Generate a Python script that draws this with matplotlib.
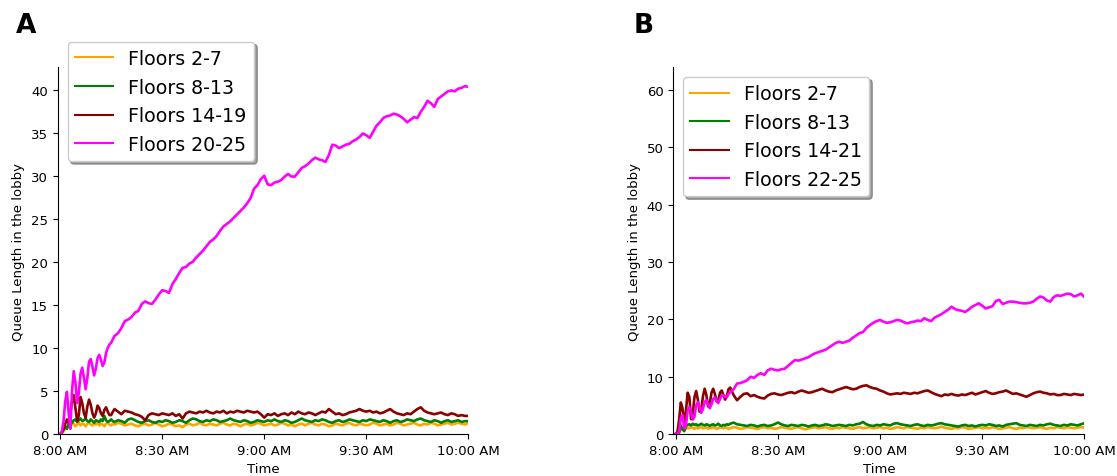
import numpy as np
import matplotlib
matplotlib.use('Agg')
import matplotlib.pyplot as plt

# time axis in minutes after 8:00 AM (finer sampling while the queues oscillate)
MIN_EARLY = np.arange(0, 16, 0.5)
MIN_LATE = np.arange(16, 121, 1)
minutes = np.concatenate([MIN_EARLY, MIN_LATE])

TICK_MIN = [0, 30, 60, 90, 120]
TICK_LABELS = ['8:00 AM', '8:30 AM', '9:00 AM', '9:30 AM', '10:00 AM']

LABELS_A = ['Floors 2-7', 'Floors 8-13', 'Floors 14-19', 'Floors 20-25']
LABELS_B = ['Floors 2-7', 'Floors 8-13', 'Floors 14-21', 'Floors 22-25']
COLORS = ['orange', 'green', 'darkred', 'magenta']

# ---- panel A ----
a_f2_7 = [0.0, 0.1, 0.3, 0.6, 0.8, 0.9, 1.0, 1.1, 1.2, 0.9, 1.1, 1.3, 1.0, 1.2, 1.1, 0.9,
          1.2, 1.3, 1.1, 1.0, 1.2, 1.1, 1.3, 1.0, 1.2, 1.1, 0.9, 1.2, 1.3, 1.1, 1.0, 1.2,
          1.1, 1.3, 1.2, 1.0, 1.1, 1.2, 1.0, 0.9, 1.1, 1.2, 1.0, 1.1, 1.3, 1.1, 0.9,
          1.0, 1.2, 1.1, 0.9, 1.0, 0.8, 1.1, 1.2, 1.0, 1.1, 1.3, 1.1, 1.0, 1.2, 1.1,
          1.0, 1.2, 1.3, 1.1, 1.0, 1.2, 1.1, 0.9, 1.1, 1.2, 1.0, 1.1, 1.3, 1.2, 1.0,
          1.1, 1.2, 1.0, 1.1, 1.3, 1.2, 1.0, 1.1, 0.9, 1.1, 1.2, 1.0, 1.2, 1.3, 1.1,
          1.0, 1.2, 1.1, 0.9, 1.0, 1.2, 1.1, 1.0, 1.2, 1.3, 1.1, 1.0, 1.2, 1.1, 1.0,
          1.1, 1.3, 1.2, 1.0, 1.1, 1.2, 1.0, 1.1, 1.3, 1.2, 1.0, 1.1, 1.2, 1.3, 1.1,
          1.0, 1.2, 1.1, 1.3, 1.2, 1.0, 1.1, 1.2, 1.3, 1.1, 1.2, 1.3, 1.2, 1.1, 1.3]
a_f8_13 = [0.0, 0.2, 0.5, 0.9, 0.6, 1.2, 1.5, 1.3, 1.6, 1.7, 1.4, 1.6, 1.8, 1.5, 1.6, 1.8,
           1.5, 1.4, 1.7, 1.5, 1.3, 1.6, 1.5, 1.4, 1.7, 1.5, 2.1, 1.6, 1.4, 1.5, 1.7, 1.5,
           1.4, 1.6, 1.5, 1.3, 1.7, 1.8, 1.6, 1.4, 1.3, 1.5, 1.6, 1.4, 1.3, 1.5, 1.4,
           1.6, 1.5, 1.3, 1.4, 1.6, 1.5, 1.3, 1.6, 1.8, 1.7, 1.5, 1.4, 1.6, 1.5, 1.7,
           1.6, 1.4, 1.5, 1.6, 1.8, 1.6, 1.5, 1.4, 1.6, 1.5, 1.3, 1.4, 1.6, 1.5, 1.4,
           1.6, 1.5, 1.7, 1.5, 1.4, 1.6, 1.5, 1.3, 1.4, 1.6, 1.8, 1.6, 1.5, 1.4, 1.6,
           1.5, 1.7, 1.6, 1.4, 1.3, 1.5, 1.6, 1.4, 1.5, 1.7, 1.6, 1.5, 1.4, 1.6, 1.5,
           1.7, 1.6, 1.5, 1.4, 1.6, 1.5, 1.3, 1.5, 1.6, 1.4, 1.5, 1.7, 1.6, 1.5, 1.7,
           1.8, 1.6, 1.5, 1.4, 1.6, 1.5, 1.3, 1.5, 1.6, 1.4, 1.5, 1.6, 1.4, 1.5, 1.5]
a_f14_19 = [0.0, 0.2, 0.6, 1.2, 1.7, 1.3, 2.5, 3.8, 4.5, 3.0, 1.5, 2.2, 4.3, 3.6, 2.4, 1.9,
            3.2, 4.0, 3.4, 2.4, 1.9, 2.4, 3.3, 3.0, 2.4, 2.1, 2.8, 3.1, 2.6, 2.2, 2.2, 2.6,
            2.9, 2.6, 2.3, 2.7, 2.6, 2.5, 2.3, 2.2, 2.0, 1.6, 2.2, 2.4, 2.3, 2.2, 2.4,
            2.3, 2.2, 2.4, 2.1, 2.3, 1.8, 2.4, 2.6, 2.5, 2.4, 2.6, 2.5, 2.7, 2.5, 2.4,
            2.6, 2.5, 2.7, 2.4, 2.6, 2.5, 2.7, 2.6, 2.5, 2.7, 2.6, 2.5, 2.6, 2.3, 1.9,
            2.3, 2.2, 2.4, 2.1, 2.3, 2.4, 2.2, 2.5, 2.3, 2.6, 2.4, 2.3, 2.5, 2.4, 2.2,
            2.4, 2.6, 2.5, 2.9, 2.6, 2.3, 2.4, 2.2, 2.3, 2.5, 2.6, 2.7, 2.9, 2.7, 2.6,
            2.7, 2.5, 2.6, 2.4, 2.5, 2.7, 2.9, 2.6, 2.4, 2.3, 2.2, 2.4, 2.3, 2.6, 2.9,
            3.1, 2.7, 2.5, 2.4, 2.3, 2.4, 2.5, 2.3, 2.2, 2.4, 2.3, 2.1, 2.2, 2.1, 2.1]
a_f20_25 = [0.0, 0.3, 1.5, 3.8, 4.9, 2.5, 0.6, 5.0, 7.3, 6.0, 3.6, 4.8, 7.0, 7.7, 6.5, 5.2,
            6.5, 8.4, 8.7, 7.8, 6.8, 7.6, 8.8, 9.2, 8.6, 7.9, 8.3, 9.4, 10.0, 10.4, 10.6, 11.0,
            11.4, 11.7, 12.3, 13.1, 13.3, 13.6, 14.1, 14.3, 15.1, 15.4, 15.2, 15.1, 15.6, 16.2, 16.7,
            16.6, 16.4, 17.4, 18.0, 18.7, 19.3, 19.4, 19.8, 20.0, 20.5, 20.9, 21.3, 21.8, 22.3, 22.6,
            23.0, 23.6, 24.1, 24.4, 24.7, 25.1, 25.5, 25.9, 26.3, 26.8, 27.4, 28.5, 28.9, 29.6, 30.0,
            29.0, 28.9, 29.2, 29.3, 29.5, 29.9, 30.2, 29.9, 29.9, 30.4, 30.9, 31.1, 31.4, 31.8, 32.1,
            31.9, 31.8, 31.6, 32.4, 33.6, 33.5, 33.2, 33.4, 33.6, 33.7, 34.0, 34.2, 34.5, 34.9, 34.7,
            34.4, 35.1, 35.8, 36.2, 36.7, 36.9, 37.0, 37.2, 37.1, 36.9, 36.6, 36.2, 36.5, 36.8, 36.7,
            37.4, 38.0, 38.7, 38.4, 38.0, 38.9, 39.2, 39.5, 39.8, 39.9, 39.8, 40.1, 40.2, 40.4, 40.3]

# ---- panel B ----
b_f2_7 = [0.0, 0.0, 0.2, 0.8, 1.0, 0.7, 0.9, 1.1, 1.0, 1.2, 1.1, 0.9, 1.2, 1.0, 1.1, 1.2,
          1.0, 1.1, 1.2, 0.9, 1.1, 1.0, 1.2, 1.1, 0.9, 1.0, 1.2, 1.1, 1.0, 1.2, 1.1, 0.9,
          1.0, 1.2, 1.1, 0.9, 1.0, 1.2, 1.1, 1.0, 0.9, 1.1, 1.2, 1.0, 1.1, 0.9, 1.0,
          1.2, 1.1, 1.0, 0.9, 1.1, 1.2, 1.0, 0.8, 1.0, 1.1, 1.2, 1.0, 1.1, 1.2, 1.0,
          0.9, 1.1, 1.0, 1.2, 1.1, 1.0, 0.9, 1.1, 1.2, 1.0, 1.1, 1.2, 1.0, 1.1, 1.2,
          1.0, 1.1, 0.9, 1.0, 1.2, 1.1, 1.0, 1.2, 1.1, 1.0, 0.9, 1.1, 1.0, 1.2, 1.1,
          1.0, 1.1, 1.3, 1.1, 1.0, 0.9, 1.1, 1.0, 1.2, 1.1, 0.9, 1.0, 1.1, 1.2, 1.0,
          1.1, 1.0, 1.2, 1.1, 0.9, 1.0, 1.1, 1.2, 1.0, 0.9, 1.1, 1.0, 1.2, 1.1, 1.0,
          1.1, 1.2, 1.0, 0.9, 1.1, 1.0, 1.2, 1.1, 1.0, 1.2, 1.1, 1.0, 1.1, 1.2, 1.1]
b_f8_13 = [0.0, 0.0, 0.3, 1.5, 0.8, 0.5, 1.4, 1.6, 1.7, 1.5, 1.8, 1.6, 1.7, 1.5, 1.6, 1.8,
           1.6, 1.5, 1.7, 1.6, 1.4, 1.6, 1.7, 1.5, 1.6, 1.8, 1.5, 1.4, 1.6, 1.5, 1.7, 1.6,
           1.8, 2.0, 1.7, 1.6, 1.5, 1.4, 1.6, 1.5, 1.3, 1.5, 1.6, 1.4, 1.5, 1.7, 2.0,
           1.7, 1.5, 1.4, 1.6, 1.5, 1.4, 1.6, 1.5, 1.3, 1.5, 1.6, 1.4, 1.5, 1.7, 1.6,
           1.4, 1.5, 1.6, 1.5, 1.4, 1.6, 1.5, 1.7, 1.8, 2.1, 1.7, 1.5, 1.4, 1.6, 1.5,
           1.7, 1.6, 1.5, 1.8, 1.9, 1.7, 1.6, 1.5, 1.4, 1.6, 1.7, 1.5, 1.4, 1.6, 1.5,
           1.6, 1.8, 1.9, 1.7, 1.6, 1.5, 1.4, 1.3, 1.5, 1.6, 1.4, 1.5, 1.3, 1.5, 1.6,
           1.5, 1.7, 1.6, 1.4, 1.5, 1.3, 1.6, 1.7, 1.8, 1.9, 1.6, 1.5, 1.4, 1.6, 1.5,
           1.4, 1.6, 1.5, 1.7, 1.8, 1.6, 1.5, 1.4, 1.6, 1.5, 1.7, 1.6, 1.5, 1.7, 1.9]
b_f14_21 = [0.0, 0.3, 2.5, 5.5, 4.5, 1.6, 4.0, 7.2, 6.5, 2.6, 3.5, 6.4, 7.5, 6.0, 3.9, 4.2,
            6.6, 7.9, 6.8, 4.8, 5.3, 7.2, 7.9, 7.0, 5.7, 5.8, 7.2, 7.6, 6.8, 6.0, 6.6, 7.8,
            8.1, 6.8, 5.9, 6.5, 7.0, 7.1, 6.6, 6.8, 6.5, 6.3, 6.2, 6.7, 7.0, 7.1, 6.9,
            6.8, 7.0, 7.2, 7.3, 7.1, 7.4, 7.6, 7.4, 7.2, 7.3, 7.5, 7.7, 7.9, 7.6, 7.4,
            7.3, 7.6, 7.8, 8.0, 8.2, 8.0, 7.8, 7.9, 8.2, 8.4, 8.5, 8.2, 8.0, 7.9, 7.6,
            7.4, 7.1, 6.9, 7.0, 7.1, 7.0, 7.2, 7.1, 7.0, 7.2, 7.1, 7.3, 7.5, 7.6, 7.3,
            7.0, 6.8, 6.6, 6.9, 6.8, 7.0, 6.8, 6.7, 6.9, 6.8, 7.0, 7.2, 6.9, 7.1, 7.3,
            7.5, 7.2, 7.0, 7.1, 7.3, 7.4, 7.6, 7.3, 7.0, 7.1, 6.9, 6.7, 6.5, 6.8, 7.1,
            7.3, 7.4, 7.2, 7.1, 6.9, 7.0, 6.8, 6.8, 7.0, 6.9, 6.8, 7.0, 6.9, 6.8, 6.9]
b_f22_25 = [0.0, 0.0, 0.4, 2.8, 3.3, 1.0, 1.5, 4.0, 4.7, 3.8, 2.5, 3.0, 5.0, 5.6, 4.8, 3.7,
            4.4, 5.6, 5.9, 5.2, 4.5, 5.2, 6.1, 6.4, 5.8, 5.4, 6.1, 6.7, 6.8, 6.5, 6.4, 7.0,
            7.3, 7.8, 8.8, 8.9, 9.1, 9.4, 10.0, 9.8, 10.3, 10.6, 10.3, 11.1, 11.4, 11.2, 11.1,
            11.3, 11.4, 11.9, 12.4, 12.9, 12.8, 13.0, 13.2, 13.4, 13.8, 14.1, 14.3, 14.5, 14.7, 15.1,
            15.5, 15.9, 16.1, 15.9, 16.1, 16.3, 16.8, 17.2, 17.6, 17.8, 18.5, 19.0, 19.4, 19.7, 19.9,
            19.6, 19.4, 19.5, 19.7, 19.9, 19.8, 19.5, 19.3, 19.5, 19.6, 19.8, 19.7, 20.2, 19.9, 19.7,
            20.3, 20.6, 20.9, 21.3, 21.7, 22.2, 21.8, 21.6, 21.5, 21.3, 21.7, 22.2, 22.5, 22.8, 22.4,
            21.9, 22.1, 22.3, 23.2, 23.4, 22.7, 22.9, 23.1, 23.1, 23.0, 22.9, 22.8, 22.8, 22.9, 23.1,
            23.6, 24.0, 23.8, 23.3, 23.1, 23.9, 24.2, 24.1, 24.3, 24.5, 24.4, 24.0, 24.2, 24.5, 23.9]

FS = 9.5

fig = plt.figure(figsize=(11.17, 4.77), dpi=100)
ax_a = fig.add_axes([0.0517, 0.088, 0.3676, 0.769])
ax_b = fig.add_axes([0.6028, 0.088, 0.368, 0.769])


def draw_panel(ax, series, labels, ylim, yticks):
    for vals, lab, col in zip(series, labels, COLORS):
        ax.plot(minutes, vals, color=col, lw=1.9, label=lab)
    ax.set_xlim(-0.7, 120)
    ax.set_ylim(*ylim)
    ax.set_xticks(TICK_MIN)
    ax.set_xticklabels(TICK_LABELS)
    ax.set_yticks(yticks)
    ax.tick_params(labelsize=FS)
    ax.set_xlabel('Time', fontsize=FS)
    ax.set_ylabel('Queue Length in the lobby', fontsize=FS)
    ax.spines['top'].set_visible(False)
    ax.spines['right'].set_visible(False)


draw_panel(ax_a, [a_f2_7, a_f8_13, a_f14_19, a_f20_25], LABELS_A, (0, 42.6), range(0, 41, 5))
draw_panel(ax_b, [b_f2_7, b_f8_13, b_f14_21, b_f22_25], LABELS_B, (0, 64), range(0, 61, 10))

leg_a = ax_a.legend(loc='upper left', bbox_to_anchor=(0.024, 1.07), borderaxespad=0,
                    fontsize=13.7, shadow=True, fancybox=True)
leg_b = ax_b.legend(loc='upper left', fontsize=13.7, shadow=True, fancybox=True)
for leg in (leg_a, leg_b):
    for line in leg.get_lines():
        line.set_linewidth(1.5)

fig.text(0.014, 0.93, 'A', fontsize=19, fontweight='bold')
fig.text(0.567, 0.93, 'B', fontsize=19, fontweight='bold')

fig.savefig('out.png', dpi=100)
